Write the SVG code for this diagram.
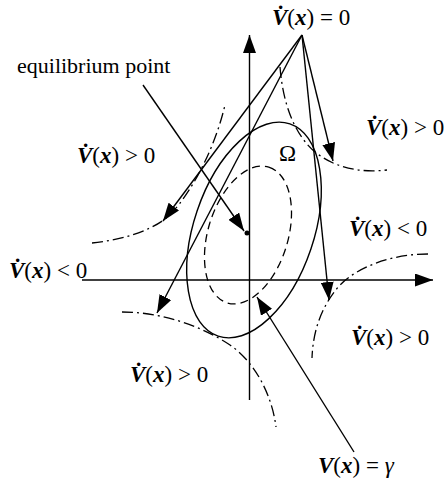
<svg xmlns="http://www.w3.org/2000/svg" width="446" height="482" viewBox="0 0 446 482">
<defs>
<marker id="ah" markerUnits="userSpaceOnUse" markerWidth="19" markerHeight="13" refX="18" refY="6.5" orient="auto">
<path d="M0,0 L18,6.5 L0,13 z" fill="#000"/>
</marker>
<style>
.t{font-family:"Liberation Serif","Times New Roman",serif;font-size:23px;fill:#000}
.e{font-size:22px}
.bi{font-weight:bold;font-style:italic}
.it{font-style:italic}
.ln{fill:none;stroke:#000;stroke-width:1.4}
.ar{fill:none;stroke:#000;stroke-width:1.4;marker-end:url(#ah)}
.dd{fill:none;stroke:#000;stroke-width:1.3;stroke-dasharray:11 4 2 4}
.da{fill:none;stroke:#000;stroke-width:1.3;stroke-dasharray:8 5}
</style>
</defs>
<rect width="446" height="482" fill="#fff"/>
<g id="axes">
<line class="ar" x1="249.5" y1="400" x2="249.5" y2="35"/>
<line class="ar" x1="82" y1="280" x2="433" y2="280"/>
</g>
<g id="region-omega">
<ellipse class="ln" cx="254" cy="230" rx="112" ry="60" transform="rotate(-71.3 254 230)"/>
<text class="t" x="279" y="161">Ω</text>
</g>
<g id="level-gamma">
<ellipse class="da" cx="248" cy="235" rx="71" ry="40" transform="rotate(-73 248 235)"/>
</g>
<g id="vdot-zero-curves">
<path class="dd" d="M92,243 C120,240 148,232 165,219 S212,160 225,105"/>
<path class="dd" d="M280,67 C283,105 295,135 315,152 C335,168 360,173 387,170"/>
<path class="dd" d="M428,254 C395,254 360,265 340,285 C322,305 313,330 312,358"/>
<path class="dd" d="M122,312 C160,312 200,325 230,345 C255,362 272,395 276,427"/>
</g>
<g id="equilibrium">
<circle cx="247" cy="233" r="2.5" fill="#000"/>
</g>
<g id="connectors">
<line class="ar" x1="143" y1="85" x2="244" y2="231"/>
<line class="ar" x1="302" y1="35" x2="163" y2="221"/>
<line class="ar" x1="302" y1="35" x2="157" y2="313"/>
<line class="ar" x1="302" y1="35" x2="333" y2="161"/>
<line class="ar" x1="302" y1="35" x2="329" y2="300"/>
<line class="ar" x1="354" y1="452" x2="257" y2="297"/>
</g>
<g id="labels">
<text class="t" x="272" y="25"><tspan class="bi">V̇</tspan>(<tspan class="bi">x</tspan>) = 0</text>
<text class="t e" x="17" y="73">equilibrium point</text>
<text class="t" x="77" y="163"><tspan class="bi">V̇</tspan>(<tspan class="bi">x</tspan>) &gt; 0</text>
<text class="t" x="366" y="135"><tspan class="bi">V̇</tspan>(<tspan class="bi">x</tspan>) &gt; 0</text>
<text class="t" x="349" y="236"><tspan class="bi">V̇</tspan>(<tspan class="bi">x</tspan>) &lt; 0</text>
<text class="t" x="9" y="278"><tspan class="bi">V̇</tspan>(<tspan class="bi">x</tspan>) &lt; 0</text>
<text class="t" x="351" y="345"><tspan class="bi">V̇</tspan>(<tspan class="bi">x</tspan>) &gt; 0</text>
<text class="t" x="130" y="382"><tspan class="bi">V̇</tspan>(<tspan class="bi">x</tspan>) &gt; 0</text>
<text class="t" x="318" y="473"><tspan class="bi">V</tspan>(<tspan class="bi">x</tspan>) = <tspan class="it">γ</tspan></text>
</g>
</svg>
